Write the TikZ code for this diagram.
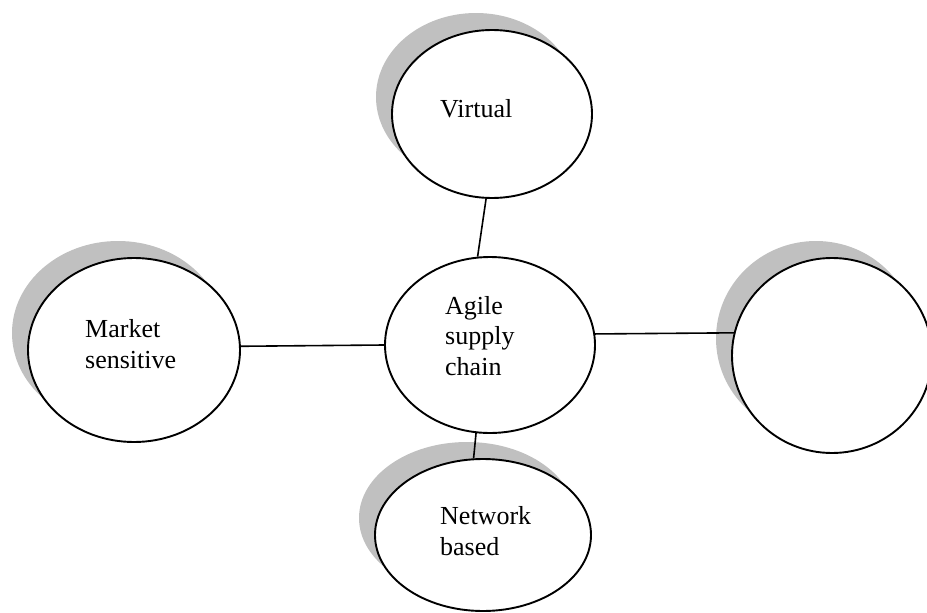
\documentclass[tikz,border=0pt]{standalone}
\usepackage{fontspec}
\setmainfont{Liberation Serif}
\usetikzlibrary{shapes.geometric,shadows}
\definecolor{shadowgray}{RGB}{192,192,192}
\begin{document}
\begin{tikzpicture}[x=1pt,y=-1pt,
  plainbubble/.style={ellipse, draw=black, line width=1.9pt, fill=white, inner sep=0pt},
  bubble/.style={plainbubble,
    drop shadow={shadow xshift=-16pt, shadow yshift=17pt, fill=shadowgray, opacity=1}},
  caption/.style={anchor=base west, font=\fontsize{26}{30.5}\selectfont, align=left, inner sep=0pt},
  link/.style={draw=black, line width=1.6pt}]
\useasboundingbox (0,0) rectangle (927,613);

% ellipses
\node[bubble, minimum width=200pt, minimum height=168pt] (virtual) at (492,114) {};
\node[plainbubble, minimum width=210pt, minimum height=176pt] (agile) at (490,345) {};
\node[bubble, minimum width=212pt, minimum height=184pt] (market) at (134,350) {};
\node[bubble, minimum width=200pt, minimum height=195pt] (empty) at (832,355.5) {};
\node[bubble, minimum width=216pt, minimum height=152pt] (network) at (483,535) {};

% labels (anchored at the baseline of the last line)
\node[caption] (vtext) at (440,117) {Virtual};
\node[caption] (mtext) at (85,368) {Market\\sensitive};
\node[caption] (atext) at (445,375) {Agile\\supply\\chain};
\node[caption] (ntext) at (440,555) {Network\\based};

% connectors
\draw[link] (virtual.266) -- (agile.98);
\draw[link] (market.2) -- (agile.180);
\draw[link] (agile.6.6) -- (empty.167);
\draw[link] (agile.261.6) -- (network.97.5);
\end{tikzpicture}
\end{document}
